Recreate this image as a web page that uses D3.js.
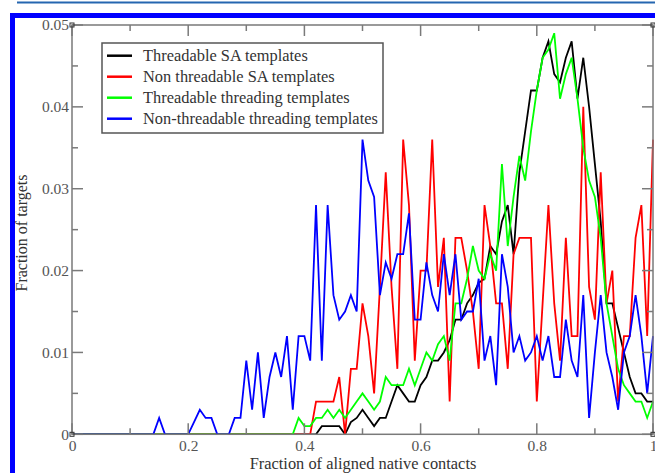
<!DOCTYPE html>
<html>
<head>
<meta charset="utf-8">
<script src="https://cdn.jsdelivr.net/npm/d3@7"></script>
<style>
  body { margin: 0; background: #fff; }
  svg { display: block; font-family: "Liberation Serif", "DejaVu Serif", serif; }
</style>
</head>
<body>
<svg width="655" height="473"></svg>
<script>
// bins of fraction of aligned native contacts
var bins = [0,0.01,0.02,0.03,0.04,0.05,0.06,0.07,0.08,0.09,
  0.1,0.11,0.12,0.13,0.14,0.15,0.16,0.17,0.18,0.19,
  0.2,0.21,0.22,0.23,0.24,0.25,0.26,0.27,0.28,0.29,
  0.3,0.31,0.32,0.33,0.34,0.35,0.36,0.37,0.38,0.39,
  0.4,0.41,0.42,0.43,0.44,0.45,0.46,0.47,0.48,0.49,
  0.5,0.51,0.52,0.53,0.54,0.55,0.56,0.57,0.58,0.59,
  0.6,0.61,0.62,0.63,0.64,0.65,0.66,0.67,0.68,0.69,
  0.7,0.71,0.72,0.73,0.74,0.75,0.76,0.77,0.78,0.79,
  0.8,0.81,0.82,0.83,0.84,0.85,0.86,0.87,0.88,0.89,
  0.9,0.91,0.92,0.93,0.94,0.95,0.96,0.97,0.98,0.99,1];

var threadableSA = [0,0,0,0,0,0,0,0,0,0, 0,0,0,0,0,0,0,0,0,0,
  0,0,0,0,0,0,0,0,0,0, 0,0,0,0,0,0,0,0,0,0,
  0,0,0,0.001,0.001,0.001,0.001,0,0.0015,0.002,
  0.003,0.002,0.001,0.002,0.002,0.004,0.006,0.005,0.004,0.004,
  0.006,0.007,0.009,0.009,0.010,0.0115,0.014,0.014,0.016,0.017,
  0.0185,0.019,0.023,0.022,0.026,0.028,0.022,0.032,0.037,0.042,
  0.042,0.046,0.048,0.044,0.043,0.046,0.048,0.041,0.046,0.040,
  0.033,0.026,0.016,0.016,0.013,0.010,0.007,0.005,0.005,0.004,0.004];

var nonThreadableSA = [0,0,0,0,0,0,0,0,0,0, 0,0,0,0,0,0,0,0,0,0,
  0,0,0,0,0,0,0,0,0,0, 0,0,0,0,0,0,0,0,0,0,
  0,0,0.004,0.004,0.004,0.004,0.007,0,0.008,0.008,
  0.016,0.012,0.005,0.018,0.032,0.018,0.008,0.036,0.028,0.009,
  0.020,0.020,0.036,0.018,0.024,0.004,0.024,0.024,0.020,0.015,
  0.008,0.028,0.023,0.016,0.016,0.008,0.022,0.024,0.024,0.024,
  0.004,0.016,0.028,0.016,0.009,0.024,0.012,0.012,0.040,0.018,
  0.014,0.032,0.016,0.020,0.004,0.012,0.012,0.024,0.028,0.012,0.036];

var threadableThreading = [0,0,0,0,0,0,0,0,0,0, 0,0,0,0,0,0,0,0,0,0,
  0,0,0,0,0,0,0,0,0,0, 0,0,0,0,0,0,0,0,0,0.002,
  0.001,0.001,0.002,0.002,0.003,0.002,0.003,0.002,0.003,0.004,
  0.005,0.004,0.003,0.004,0.007,0.006,0.006,0.006,0.008,0.006,
  0.008,0.010,0.009,0.011,0.012,0.009,0.016,0.016,0.019,0.023,
  0.020,0.019,0.022,0.020,0.033,0.023,0.029,0.034,0.031,0.037,
  0.042,0.046,0.047,0.049,0.041,0.044,0.046,0.041,0.035,0.031,
  0.029,0.024,0.016,0.012,0.008,0.006,0.005,0.004,0.004,0.002,0.004];

var nonThreadableThreading = [0,0,0,0,0,0,0,0,0,0, 0,0,0,0,0,0.002,0,0,0,0,
  0,0.0015,0.003,0.002,0.002,0,0,0,0.002,0.002,
  0.009,0.003,0.010,0.002,0.007,0.010,0.007,0.012,0.003,0.012,
  0.012,0.009,0.028,0.009,0.028,0.017,0.014,0.015,0.017,0.015,
  0.036,0.031,0.029,0.017,0.021,0.019,0.022,0.022,0.027,0.014,
  0.014,0.021,0.017,0.015,0.022,0.017,0.022,0.014,0.015,0.015,
  0.019,0.009,0.012,0.006,0.022,0.018,0.010,0.012,0.009,0.010,
  0.012,0.009,0.012,0.007,0.007,0.014,0.009,0.007,0.017,0.002,
  0.010,0.017,0.010,0.007,0.003,0.010,0.012,0.017,0.012,0.005,0.012];

var seriesNames = ["Threadable SA templates", "Non threadable SA templates",
  "Threadable threading templates", "Non-threadable threading templates"];
var seriesColors = ["#000000", "#ff0000", "#00ff00", "#0000ff"];
var seriesValues = [threadableSA, nonThreadableSA, threadableThreading, nonThreadableThreading];

var xMajor = [0, 0.2, 0.4, 0.6, 0.8, 1];
var xMinor = [0.1, 0.3, 0.5, 0.7, 0.9];
var yMajor = [0, 0.01, 0.02, 0.03, 0.04, 0.05];
var yMinor = [0.005, 0.015, 0.025, 0.035, 0.045];

var svg = d3.select("svg");
var plotL = 72, plotR = 653, plotT = 25, plotB = 434.3;

var x = d3.scaleLinear().domain([0, 1]).range([plotL, plotR]);
var y = d3.scaleLinear().domain([0, 0.05]).range([plotB, plotT]);

// page decorations
svg.append("line").attr("x1", 17).attr("x2", 655).attr("y1", 2.5).attr("y2", 2.5)
    .attr("stroke", "#2566b0").attr("stroke-width", 2);
svg.append("rect").attr("x", 10).attr("y", 13).attr("width", 660).attr("height", 480)
    .attr("fill", "none").attr("stroke", "#0000ff").attr("stroke-width", 5)
    .attr("transform", "translate(2.5,2.5)");

var axisColor = "#7a7a7a";
var labelColor = "#555";

// lines
var line = d3.line()
    .x(function(d, i) { return x(bins[i]); })
    .y(function(d) { return y(d); });

svg.append("clipPath").attr("id", "clip").append("rect")
    .attr("x", plotL).attr("y", plotT - 2).attr("width", plotR - plotL + 2).attr("height", plotB - plotT + 2);

svg.append("g").attr("clip-path", "url(#clip)")
  .selectAll("path")
  .data(seriesValues)
  .enter().append("path")
    .attr("d", line)
    .attr("fill", "none")
    .attr("stroke", function(d, i) { return seriesColors[i]; })
    .attr("stroke-width", 1.8)
    .attr("stroke-linejoin", "miter");

// frame
svg.append("rect").attr("x", plotL).attr("y", plotT).attr("width", plotR - plotL).attr("height", plotB - plotT)
    .attr("fill", "none").attr("stroke", axisColor).attr("stroke-width", 1.5);

// tick labels
var gx = svg.append("g").attr("transform", "translate(0," + plotB + ")")
    .call(d3.axisBottom(x).tickValues(xMajor).tickSize(0)
      .tickFormat(function(d) { return d === 0 || d === 1 ? d : d3.format(".1f")(d); }));
gx.select(".domain").remove();
gx.selectAll("text").attr("dy", "0.95em").attr("y", 2)
    .attr("font-size", 15.5).attr("fill", labelColor).attr("font-family", "Liberation Serif, serif");

var gy = svg.append("g").attr("transform", "translate(" + plotL + ",0)")
    .call(d3.axisLeft(y).tickValues(yMajor).tickSize(0)
      .tickFormat(function(d) { return d === 0 ? "0" : d3.format(".2f")(d); }));
gy.select(".domain").remove();
gy.selectAll("text").attr("x", -3)
    .attr("font-size", 15.5).attr("fill", labelColor).attr("font-family", "Liberation Serif, serif");

// inward ticks, mirrored on opposite sides
function ticks(vals, len, horizontal) {
  vals.forEach(function(v) {
    if (horizontal) {
      var px = x(v);
      svg.append("line").attr("x1", px).attr("x2", px).attr("y1", plotB).attr("y2", plotB - len)
        .attr("stroke", axisColor).attr("stroke-width", 1.5);
      svg.append("line").attr("x1", px).attr("x2", px).attr("y1", plotT).attr("y2", plotT + len)
        .attr("stroke", axisColor).attr("stroke-width", 1.5);
    } else {
      var py = y(v);
      svg.append("line").attr("x1", plotL).attr("x2", plotL + len).attr("y1", py).attr("y2", py)
        .attr("stroke", axisColor).attr("stroke-width", 1.5);
      svg.append("line").attr("x1", plotR).attr("x2", plotR - len).attr("y1", py).attr("y2", py)
        .attr("stroke", axisColor).attr("stroke-width", 1.5);
    }
  });
}
ticks(xMajor, 11, true);
ticks(xMinor, 6, true);
ticks(yMajor, 11, false);
ticks(yMinor, 6, false);

// little corner markers
[[plotL, plotB], [plotL, plotT], [plotR, plotB], [plotR, plotT]].forEach(function(c) {
  svg.append("rect").attr("x", c[0] - 2).attr("y", c[1] - 2).attr("width", 4).attr("height", 4)
    .attr("fill", "none").attr("stroke", "#333").attr("stroke-width", 1);
});

// axis titles
svg.append("text").attr("x", 363).attr("y", 469).attr("text-anchor", "middle")
    .attr("font-size", 16.4).attr("fill", "#333").text("Fraction of aligned native contacts");
svg.append("text").attr("transform", "translate(27,233) rotate(-90)").attr("text-anchor", "middle")
    .attr("font-size", 16).attr("fill", "#333").text("Fraction of targets");

// legend
var lg = svg.append("g").attr("transform", "translate(102,43)");
lg.append("rect").attr("width", 281).attr("height", 90)
    .attr("fill", "#fff").attr("stroke", "#555").attr("stroke-width", 1.5);
var item = lg.selectAll("g.item").data(seriesNames).enter().append("g")
    .attr("class", "item")
    .attr("transform", function(d, i) { return "translate(0," + (12.7 + i * 21) + ")"; });
item.append("line").attr("x1", 5).attr("x2", 30)
    .attr("stroke", function(d, i) { return seriesColors[i]; }).attr("stroke-width", 2.5);
item.append("text").attr("x", 41).attr("dy", "0.35em")
    .attr("font-size", 16.4).attr("fill", "#333").text(function(d) { return d; });
</script>
</body>
</html>
